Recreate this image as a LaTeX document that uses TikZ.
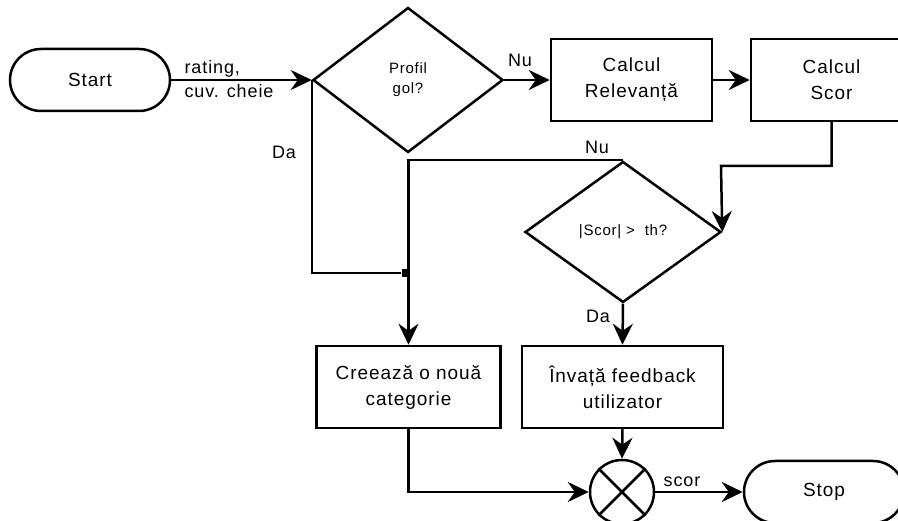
\documentclass[tikz,border=0pt]{standalone}
\usepackage{fontspec}
\setmainfont{Liberation Sans}[LetterSpace=5]
\usetikzlibrary{shapes.geometric,arrows.meta}

\begin{document}
\begin{tikzpicture}[x=1pt,y=-1pt,line width=2.5pt,
  every node/.style={font=\fontsize{19}{26}\selectfont},
  term/.style={draw,rectangle,rounded corners=31pt,minimum width=160pt,minimum height=62pt},
  proc/.style={draw,rectangle,align=center,minimum height=82pt,inner sep=0pt},
  dec/.style={draw,diamond,align=center,inner sep=0pt,font=\fontsize{15}{20}\selectfont},
  lbl/.style={font=\fontsize{18}{24}\selectfont},
  arr/.style={-{Stealth[length=21pt,width=20pt,inset=7pt]}}]
\useasboundingbox (0,0) rectangle (898,521);
% nodes
\node[term] (start) at (90,80) {Start};
\node[dec,minimum width=190pt,minimum height=145pt] (gol) at (408,80) {Profil\\gol?};
\node[proc,minimum width=161pt] (rel) at (631.5,80) {Calcul\\Relevanță};
\node[proc,minimum width=161pt] (scor) at (831.5,80) {Calcul\\Scor};
\node[dec,minimum width=196pt,minimum height=141pt] (prag) at (623,232) {|Scor| > \ th?};
\node[proc,minimum width=184pt] (cat) at (408.5,387) {Creează o nouă\\categorie};
\node[proc,minimum width=201pt] (inv) at (622.5,387) {Învață feedback\\utilizator};
\node[draw,circle,minimum size=64pt,inner sep=0pt] (mix) at (622,492) {};
\draw (mix.north west) -- (mix.south east) (mix.north east) -- (mix.south west);
\node[term] (stop) at (824,492) {Stop};
\node[fill,inner sep=0pt,minimum size=8pt] (join) at (406,273) {};
\coordinate (cot) at (721,166);
% labels
\node[lbl,align=left,anchor=west] (inp) at (180,79) {rating,\\cuv. cheie};
\node[lbl] (nu1) at (520,60) {Nu};
\node[lbl] (da1) at (284,152) {Da};
\node[lbl] (nu2) at (597,147) {Nu};
\node[lbl] (da2) at (598,316) {Da};
\node[lbl] (out) at (682,482) {scor};
% connectors
\draw[arr] (start.east) -- (gol.west);
\draw[arr] (gol.east) -- (rel.west);
\draw[arr] (rel.east) -- (scor.west);
\draw[arr] (scor.south) |- (cot) -- (prag.east);
\draw[arr] (prag.north) -| (cat.north);
\draw (gol.west) |- (join);
\draw[arr] (prag.south) -- (inv.north);
\draw[arr] (cat.south) |- (mix.west);
\draw[arr] (inv.south) -- (mix.north);
\draw[arr] (mix.east) -- (stop.west);
\end{tikzpicture}
\end{document}
